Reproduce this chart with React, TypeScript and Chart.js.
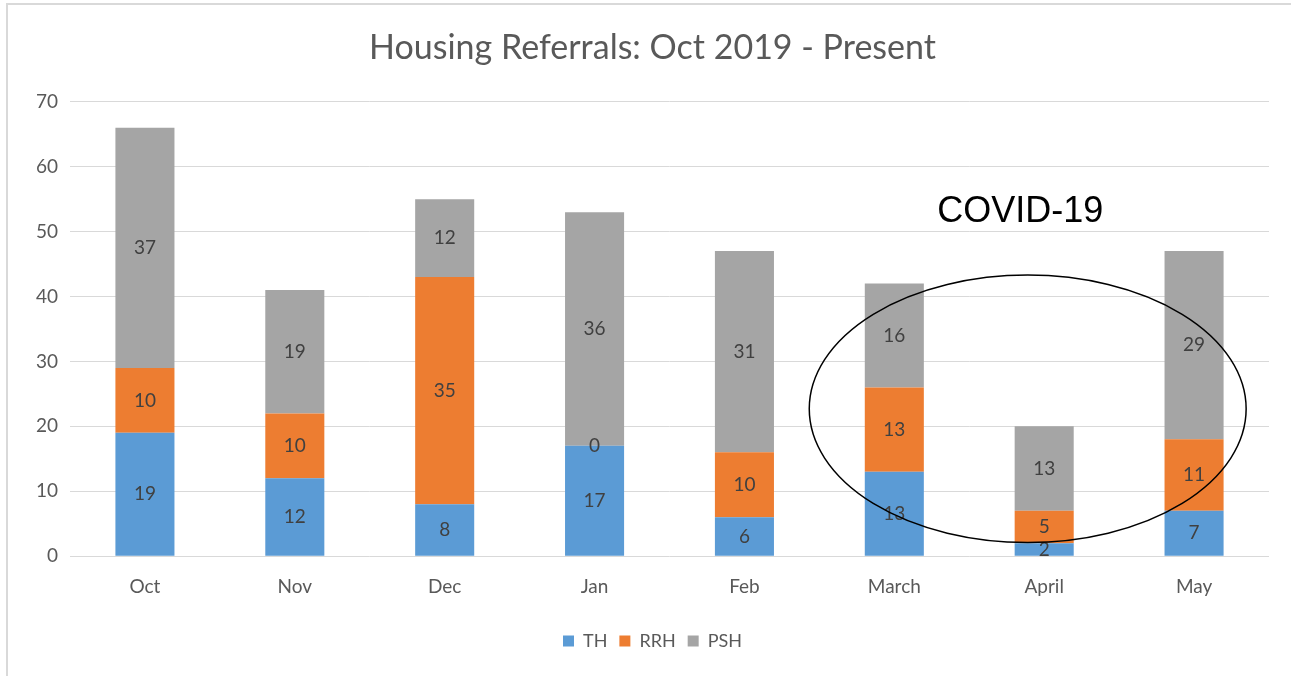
import React, { useEffect, useRef } from "react";
import { Chart, registerables } from "chart.js";

Chart.register(...registerables);

const categories = ["Oct", "Nov", "Dec", "Jan", "Feb", "March", "April", "May"];
const thValues = [19, 12, 8, 17, 6, 13, 2, 7];
const rrhValues = [10, 10, 35, 0, 10, 13, 5, 11];
const pshValues = [37, 19, 12, 36, 31, 16, 13, 29];
const yTicks = [0, 10, 20, 30, 40, 50, 60, 70];

const FONT = "Lato, 'Open Sans', sans-serif";

const frameAndAnnotation = {
  id: "frameAndAnnotation",
  beforeDraw(chart: any) {
    const ctx = chart.ctx;
    ctx.save();
    ctx.fillStyle = "#ffffff";
    ctx.fillRect(0, 0, chart.width, chart.height);
    ctx.strokeStyle = "#d9d9d9";
    ctx.lineWidth = 2;
    ctx.beginPath();
    ctx.moveTo(7, 676);
    ctx.lineTo(7, 4);
    ctx.lineTo(chart.width, 4);
    ctx.stroke();
    ctx.restore();
  },
  afterDatasetsDraw(chart: any) {
    const ctx = chart.ctx;
    ctx.save();
    ctx.font = `19px ${FONT}`;
    ctx.fillStyle = "#404040";
    ctx.textAlign = "center";
    ctx.textBaseline = "middle";
    chart.data.datasets.forEach((ds: any, i: number) => {
      const meta = chart.getDatasetMeta(i);
      meta.data.forEach((el: any, j: number) => {
        const v = ds.data[j];
        const cy = (el.y + el.base) / 2;
        ctx.fillText(String(v), el.x, cy);
      });
    });
    const xs = chart.scales.x;
    const ys = chart.scales.y;
    const x0 = xs.getPixelForValue(0);
    const step = xs.getPixelForValue(1) - x0;
    const px = (v: number) => x0 + v * step;
    const cx = px(5.89);
    const rx = (px(7.35) - px(4.435)) / 2;
    const cy = (ys.getPixelForValue(43.3) + ys.getPixelForValue(2.1)) / 2;
    const ry = (ys.getPixelForValue(2.1) - ys.getPixelForValue(43.3)) / 2;
    ctx.strokeStyle = "#000000";
    ctx.lineWidth = 1.5;
    ctx.beginPath();
    ctx.ellipse(cx, cy, rx, ry, 0, 0, Math.PI * 2);
    ctx.stroke();
    ctx.font = `36px 'Liberation Sans', Arial, sans-serif`;
    ctx.fillStyle = "#000000";
    ctx.fillText("COVID-19", px(5.84), ys.getPixelForValue(53));
    ctx.restore();
  },
};

export default function App() {
  const ref = useRef<HTMLCanvasElement>(null);
  useEffect(() => {
    document.body.style.margin = "0";
    const chart = new Chart(ref.current!, {
      type: "bar",
      data: {
        labels: categories,
        datasets: [
          { label: "TH", data: thValues, backgroundColor: "#5B9BD5" },
          { label: "RRH", data: rrhValues, backgroundColor: "#ED7D31" },
          { label: "PSH", data: pshValues, backgroundColor: "#A5A5A5" },
        ],
      },
      options: {
        responsive: false,
        animation: false,
        layout: { padding: { left: 36, right: 22, top: 0, bottom: 16 } },
        datasets: { bar: { categoryPercentage: 1, barPercentage: 0.394 } } as any,
        plugins: {
          title: {
            display: true,
            text: "Housing Referrals: Oct 2019 - Present",
            color: "#595959",
            font: { family: FONT, size: 34, weight: "normal" },
            padding: { top: 28, bottom: 33 },
          },
          legend: {
            position: "bottom",
            labels: {
              color: "#595959",
              font: { family: FONT, size: 18 },
              boxWidth: 11,
              boxHeight: 11,
              padding: 12,
            },
          },
          tooltip: { enabled: false },
        },
        scales: {
          x: {
            stacked: true,
            grid: { display: false, drawTicks: false },
            border: { display: false },
            ticks: { color: "#595959", font: { family: FONT, size: 19 }, padding: 19 },
            afterFit: (s: any) => {
              s.height += 3;
            },
          },
          y: {
            stacked: true,
            min: 0,
            max: 70,
            afterBuildTicks: (s: any) => {
              s.ticks = yTicks.map((v) => ({ value: v }));
            },
            afterFit: (s: any) => {
              s.width = 34;
            },
            grid: { color: "#d9d9d9", drawTicks: false },
            border: { display: false },
            ticks: { color: "#595959", font: { family: FONT, size: 19 }, padding: 12 },
          },
        },
      },
      plugins: [frameAndAnnotation],
    });
    return () => chart.destroy();
  }, []);
  return <canvas ref={ref} width={1291} height={676} style={{ display: "block" }} />;
}
